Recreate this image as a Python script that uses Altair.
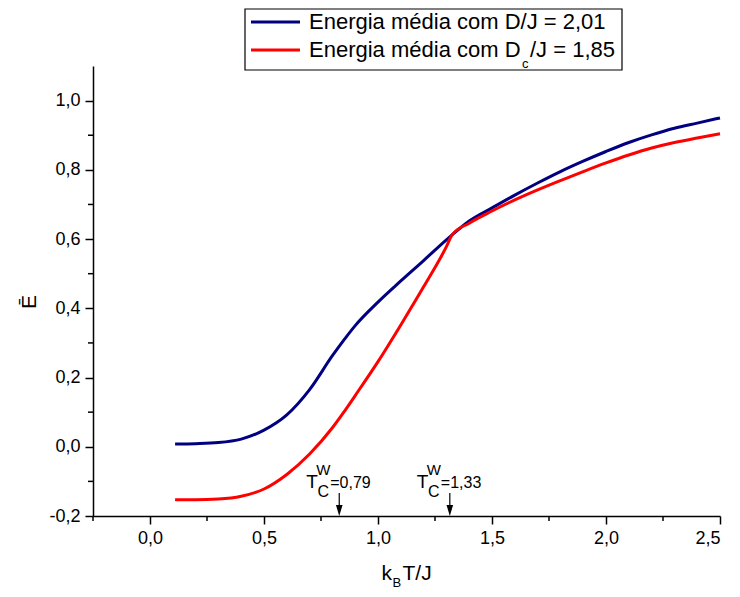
import altair as alt
import pandas as pd

# ---- data ----
kT = [0.11, 0.2, 0.3, 0.4, 0.5, 0.6, 0.7, 0.8, 0.85, 0.9, 1.0, 1.1, 1.2, 1.3, 1.325,
      1.4, 1.5, 1.6, 1.7, 1.8, 1.9, 2.0, 2.1, 2.2, 2.3, 2.4, 2.5]
E_D201 = [0.008, 0.009, 0.012, 0.022, 0.048, 0.092, 0.165, 0.263, 0.308, 0.35, 0.418, 0.479,
          0.538, 0.598, 0.612, 0.652, 0.69, 0.727, 0.762, 0.795, 0.825, 0.853, 0.879,
          0.901, 0.92, 0.935, 0.95]
E_Dc185 = [-0.153, -0.153, -0.151, -0.143, -0.122, -0.08, -0.021, 0.055, 0.1, 0.148, 0.246,
           0.352, 0.462, 0.578, 0.612, 0.646, 0.681, 0.713, 0.742, 0.769, 0.795, 0.82,
           0.843, 0.863, 0.879, 0.892, 0.904]
series = ["D/J = 2,01", "Dc/J = 1,85"]
colors = ["#000080", "#FF0000"]

x_ticks = [0.0, 0.5, 1.0, 1.5, 2.0, 2.5]
x_minor = [-0.25, 0.25, 0.75, 1.25, 1.75, 2.25]
y_ticks = [-0.2, 0.0, 0.2, 0.4, 0.6, 0.8, 1.0]
y_minor = [-0.1, 0.1, 0.3, 0.5, 0.7, 0.9]

tc_pos = [0.83, 1.315]
tc_labels = ["=0,79", "=1,33"]

legend_row1 = "Energia média com D/J = 2,01"
legend_row2 = ["Energia média com D", "c", "/J = 1,85"]

FONT = "Liberation Sans"
W, H = 627, 450

df = pd.DataFrame({
    "kT": kT * 2,
    "E": E_D201 + E_Dc185,
    "serie": [series[0]] * len(kT) + [series[1]] * len(kT),
})

xs = alt.Scale(domain=[-0.25, 2.5], nice=False, zero=False)
ys = alt.Scale(domain=[-0.2, 1.1], nice=False, zero=False)
fmt = "replace(replace(format(datum.value, '.1f'), '.', ','), '\u2212', '-')"
x_axis = alt.Axis(values=x_ticks, labelExpr=fmt, title=None)
y_axis = alt.Axis(values=y_ticks, labelExpr=fmt, title=None)

lines = alt.Chart(df).mark_line(strokeWidth=3, interpolate="monotone").encode(
    x=alt.X("kT:Q", scale=xs, axis=x_axis),
    y=alt.Y("E:Q", scale=ys, axis=y_axis),
    color=alt.Color("serie:N", scale=alt.Scale(domain=series, range=colors), legend=None),
)

minor_x = alt.Chart(pd.DataFrame({"v": x_minor})).mark_rule(color="black", strokeWidth=1.5).encode(
    x=alt.X("v:Q", scale=xs, axis=x_axis), y=alt.value(H), y2=alt.value(H + 5))
minor_y = alt.Chart(pd.DataFrame({"v": y_minor})).mark_rule(color="black", strokeWidth=1.5).encode(
    y=alt.Y("v:Q", scale=ys, axis=y_axis), x=alt.value(0), x2=alt.value(-5))

ann = pd.DataFrame({"x": tc_pos, "lab": tc_labels})
ax = alt.X("x:Q", scale=xs, axis=x_axis)
arrow_line = alt.Chart(ann).mark_rule(color="black", strokeWidth=1.2).encode(
    x=ax, y=alt.value(H - 23), y2=alt.value(H - 9))
arrow_head = alt.Chart(ann).mark_point(shape="M-0.6,-1L0.6,-1L0,1Z", filled=True, color="black",
                                       opacity=1, size=121).encode(x=ax, y=alt.value(H - 5.5))
t_T = alt.Chart(ann).mark_text(text="T", align="left", baseline="alphabetic", dx=-33,
                               fontSize=19, font=FONT, color="black").encode(x=ax, y=alt.value(H - 28))
t_W = alt.Chart(ann).mark_text(text="W", align="center", baseline="middle", dx=-16,
                               fontSize=15, font=FONT, color="black").encode(x=ax, y=alt.value(H - 46))
t_C = alt.Chart(ann).mark_text(text="C", align="center", baseline="middle", dx=-16,
                               fontSize=16, font=FONT, color="black").encode(x=ax, y=alt.value(H - 24))
t_val = alt.Chart(ann).mark_text(align="left", baseline="alphabetic", dx=-9,
                                 fontSize=16, font=FONT, color="black").encode(
    x=ax, y=alt.value(H - 28), text="lab:N")

one = pd.DataFrame({"a": [0]})

def txt(s, x, y, size, align="left", baseline="middle", angle=0):
    return alt.Chart(one).mark_text(text=s, align=align, baseline=baseline, fontSize=size,
                                    font=FONT, color="black", angle=angle).encode(
        x=alt.value(x), y=alt.value(y))

# axis titles
xt_k = txt("k", W / 2 - 25, H + 64, 21, baseline="alphabetic")
xt_B = txt("B", W / 2 - 14, H + 71, 13, baseline="alphabetic")
xt_TJ = txt("T/J", W / 2 - 4, H + 64, 21, baseline="alphabetic")
yt = txt("Ē", -63, 236, 21, align="center", angle=270)

# legend
leg_box = alt.Chart(one).mark_rect(fill="white", stroke="black", strokeWidth=1.2).encode(
    x=alt.value(152), x2=alt.value(529), y=alt.value(-57), y2=alt.value(4))
leg_l1 = alt.Chart(one).mark_rule(color=colors[0], strokeWidth=3).encode(
    x=alt.value(158), x2=alt.value(207), y=alt.value(-44))
leg_l2 = alt.Chart(one).mark_rule(color=colors[1], strokeWidth=3).encode(
    x=alt.value(158), x2=alt.value(207), y=alt.value(-16))
leg_t1 = txt(legend_row1, 216, -44, 22)
leg_t2a = txt(legend_row2[0], 216, -16, 22)
leg_t2b = txt(legend_row2[1], 429, -2, 13)
leg_t2c = txt(legend_row2[2], 437, -16, 22)

chart = alt.layer(
    lines, minor_x, minor_y, arrow_line, arrow_head, t_T, t_W, t_C, t_val,
    xt_k, xt_B, xt_TJ, yt,
    leg_box, leg_l1, leg_l2, leg_t1, leg_t2a, leg_t2b, leg_t2c,
).properties(
    width=W, height=H,
    autosize=alt.AutoSizeParams(type="none"),
    padding={"left": 85, "top": 58, "right": 12, "bottom": 73},
).configure_view(stroke=None).configure_axis(
    grid=False, domainColor="black", domainWidth=1.5, tickColor="black", tickWidth=1.5,
    tickSize=8, labelFont=FONT, labelFontSize=18, labelColor="black", labelPadding=5,
)

chart.save("out.html", embed_options={"renderer": "svg", "actions": False})
